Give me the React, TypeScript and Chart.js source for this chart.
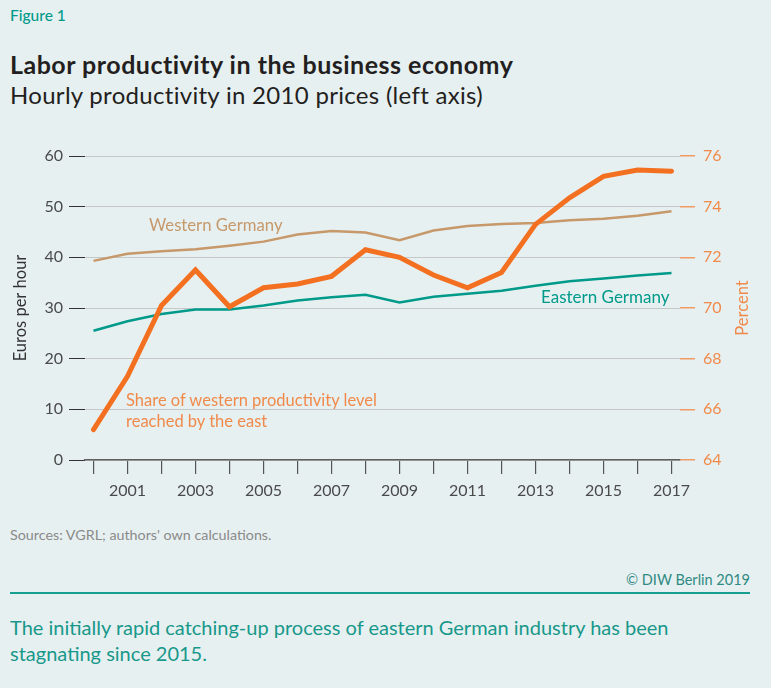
import React, { useEffect, useRef } from "react";
import { Chart, registerables } from "chart.js";

Chart.register(...registerables);

const years = [2000, 2001, 2002, 2003, 2004, 2005, 2006, 2007, 2008, 2009, 2010, 2011, 2012, 2013, 2014, 2015, 2016, 2017];
const western = [39.3, 40.7, 41.2, 41.6, 42.3, 43.1, 44.5, 45.2, 44.9, 43.4, 45.3, 46.2, 46.6, 46.8, 47.3, 47.6, 48.2, 49.1];
const eastern = [25.5, 27.4, 28.8, 29.7, 29.7, 30.5, 31.5, 32.1, 32.6, 31.1, 32.2, 32.8, 33.4, 34.4, 35.3, 35.8, 36.4, 36.9];
const share = [65.2, 67.3, 70.1, 71.5, 70.05, 70.8, 70.95, 71.25, 72.3, 72.0, 71.3, 70.8, 71.4, 73.3, 74.35, 75.2, 75.45, 75.4];
const leftTicks = [0, 10, 20, 30, 40, 50, 60];
const rightTicks = [64, 66, 68, 70, 72, 74, 76];

const BG = "#e7f0f1";
const ORANGE = "#f37021";
const ORANGE_TXT = "#f08a4b";
const TAN = "#c6986a";
const TEAL = "#009a8a";
const FONT = "Lato, 'Open Sans', sans-serif";

export default function App() {
  const ref = useRef<HTMLCanvasElement | null>(null);

  useEffect(() => {
    if (!ref.current) return;
    const toPts = (arr: number[]) => arr.map((v, i) => ({ x: years[i], y: v }));
    const chart = new Chart(ref.current, {
      type: "line",
      data: {
        datasets: [
          {
            label: "Share",
            data: toPts(share),
            yAxisID: "y1",
            borderColor: ORANGE,
            borderWidth: 5,
            borderCapStyle: "round",
            pointRadius: 0,
            tension: 0,
            order: 0,
          },
          {
            label: "Western Germany",
            data: toPts(western),
            yAxisID: "y",
            borderColor: TAN,
            borderWidth: 2.5,
            pointRadius: 0,
            tension: 0,
            order: 1,
          },
          {
            label: "Eastern Germany",
            data: toPts(eastern),
            yAxisID: "y",
            borderColor: TEAL,
            borderWidth: 2.5,
            pointRadius: 0,
            tension: 0,
            order: 2,
          },
        ],
      },
      options: {
        responsive: false,
        animation: false,
        layout: { padding: { top: 36, bottom: 0, left: 0, right: 0 } },
        plugins: { legend: { display: false }, tooltip: { enabled: false } },
        scales: {
          x: {
            type: "linear",
            min: 1999.75,
            max: 2017.25,
            afterBuildTicks: (s: any) => {
              s.ticks = years.map((v) => ({ value: v }));
            },
            afterFit: (s: any) => {
              s.height = 50;
            },
            ticks: {
              autoSkip: false,
              maxRotation: 0,
              padding: 7,
              color: "#4a4a4a",
              font: { family: FONT, size: 16 },
              callback: (v: any) => (Number(v) % 2 === 1 ? String(v) : ""),
            },
            grid: {
              drawOnChartArea: false,
              drawTicks: true,
              tickLength: 14,
              tickColor: "#555",
              lineWidth: 1.2,
            },
            border: { display: true, color: "#5f5f5f", width: 1.5 },
          },
          y: {
            position: "left",
            min: 0,
            max: 60,
            afterBuildTicks: (s: any) => {
              s.ticks = leftTicks.map((v) => ({ value: v }));
            },
            afterFit: (s: any) => {
              s.width = 85;
            },
            ticks: {
              padding: 6,
              color: "#4a4a4a",
              font: { family: FONT, size: 16 },
            },
            grid: {
              color: "#c4c8c9",
              lineWidth: 1,
              tickLength: 16,
              tickColor: "#333",
            },
            border: { display: false },
            title: {
              display: true,
              text: "Euros per hour",
              color: "#333",
              font: { family: FONT, size: 16.5 },
              padding: { top: 11, bottom: 0 },
            },
          },
          y1: {
            position: "right",
            min: 64,
            max: 76,
            afterBuildTicks: (s: any) => {
              s.ticks = rightTicks.map((v) => ({ value: v }));
            },
            afterFit: (s: any) => {
              s.width = 91;
            },
            ticks: {
              padding: 8,
              color: ORANGE_TXT,
              font: { family: FONT, size: 16 },
            },
            grid: {
              drawOnChartArea: false,
              tickLength: 15,
              tickColor: "#f29a63",
              lineWidth: 1.5,
            },
            border: { display: false },
          },
        },
      },
    });
    return () => chart.destroy();
  }, []);

  const abs = (s: React.CSSProperties): React.CSSProperties => ({ position: "absolute", margin: 0, whiteSpace: "nowrap", ...s });

  return (
    <div style={{ position: "absolute", left: 0, top: 0, width: 771, height: 688, background: BG, fontFamily: FONT, overflow: "hidden" }}>
      <div style={abs({ left: 10, top: 6, fontSize: 15.5, color: TEAL, fontWeight: 500 })}>Figure 1</div>
      <div style={abs({ left: 10, top: 49, fontSize: 25, letterSpacing: "0.5px", color: "#231f20", fontWeight: 700 })}>Labor productivity in the business economy</div>
      <div style={abs({ left: 10, top: 80, fontSize: 24, letterSpacing: "0.3px", color: "#231f20" })}>Hourly productivity in 2010 prices (left axis)</div>

      <canvas ref={ref} width={771} height={390} style={{ position: "absolute", left: 0, top: 120, width: 771, height: 390 }} />

      <div style={abs({ left: 149, top: 215, fontSize: 16.7, color: TAN })}>Western Germany</div>
      <div style={abs({ left: 541, top: 286, fontSize: 17, color: TEAL })}>Eastern Germany</div>
      <div style={abs({ left: 126, top: 390, fontSize: 16.5, color: ORANGE_TXT, lineHeight: "21px", whiteSpace: "normal" })}>
        Share of western productivity level
        <br />
        reached by the east
      </div>
      <div
        style={abs({
          left: 742,
          top: 308,
          fontSize: 16.5,
          color: ORANGE_TXT,
          transform: "translate(-50%, -50%) rotate(-90deg)",
        })}
      >
        Percent
      </div>

      <div style={abs({ left: 10, top: 526, fontSize: 14.3, color: "#8a8a8a" })}>Sources: VGRL; authors' own calculations.</div>
      <div style={abs({ right: 21, top: 571, fontSize: 14.5, color: "#2f8a82" })}>© DIW Berlin 2019</div>
      <div style={{ position: "absolute", left: 10, top: 592, width: 740, height: 2, background: "#17a090" }} />
      <div style={abs({ left: 10, top: 614, fontSize: 20, color: "#17988a", lineHeight: "26px", whiteSpace: "normal", width: 750 })}>
        The initially rapid catching-up process of eastern German industry has been
        <br />
        stagnating since 2015.
      </div>
    </div>
  );
}
